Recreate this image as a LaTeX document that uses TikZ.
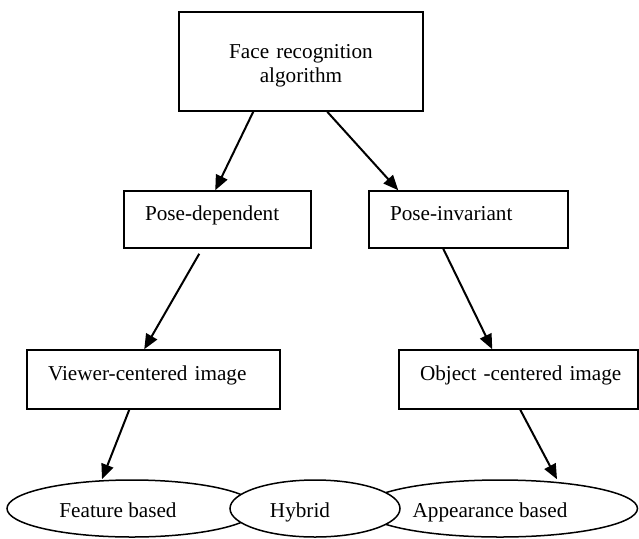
\documentclass[tikz,border=0pt]{standalone}
\usepackage{fontspec}
\setmainfont{Liberation Serif}
\usetikzlibrary{shapes.geometric,arrows.meta,calc}
\begin{document}
\begin{tikzpicture}[x=1pt,y=-1pt,
  every node/.style={font=\fontsize{21.2}{24}\selectfont},
  box/.style={draw=black,line width=1.5pt,rectangle,inner xsep=21pt,inner ysep=0pt,align=left,text height=0.7em,text depth=0.47em},
  ell/.style={draw=black,line width=1.5pt,ellipse,inner sep=0pt,fill=white},
  lbl/.style={inner sep=0pt,anchor=base},
  arr/.style={line width=2pt,-{Triangle[length=15pt,width=12.5pt]}}]
\useasboundingbox (0,0) rectangle (639,538);
% boxes
\node[draw=black,line width=1.5pt,rectangle,inner xsep=22pt,inner ysep=0pt,align=center,text width=200pt,minimum height=99pt] (top) at (301,61.5) {\rule{0pt}{22.5pt}Face recognition\\algorithm};
\node[box,text width=145pt,minimum height=57pt] (pd) at (217.5,219.5) {\mbox{Pose-dependent}};
\node[box,text width=157pt,minimum height=57pt] (pi) at (468.5,219.5) {\mbox{Pose-invariant}};
\node[box,text width=211pt,minimum height=59pt] (vc) at (153.5,379.5) {\mbox{Viewer-centered image}};
\node[box,text width=197pt,minimum height=59pt] (oc) at (518.5,379.5) {\mbox{Object -centered image}};
% ellipses
\node[ell,minimum width=250pt,minimum height=57pt] (fe) at (132,508.5) {};
\node[ell,minimum width=275pt,minimum height=57pt] (ae) at (500,508.5) {};
\node[ell,minimum width=170pt,minimum height=57pt] (he) at (315,508.5) {};
\node[lbl] (ft) at (118,517) {Feature based};
\node[lbl] (ht) at (300,517) {Hybrid};
\node[lbl] (at) at (490,517) {Appearance based};
% arrows
\draw[arr] ($(top.south west)+(75,0)$) -- ($(pd.north west)+(92,0)$);
\draw[arr] ($(top.south west)+(149,0)$) -- ($(pi.north west)+(30,0)$);
\draw[arr] ($(pd.south west)+(76,5)$) -- ($(vc.north west)+(118,0)$);
\draw[arr] ($(pi.south west)+(75,0)$) -- ($(oc.north west)+(94,0)$);
\draw[arr] ($(vc.south west)+(103,0)$) -- ($(fe.north)+(-30,0)$);
\draw[arr] ($(oc.south west)+(122,0)$) -- ($(ae.north)+(57,0)$);
\end{tikzpicture}
\end{document}
